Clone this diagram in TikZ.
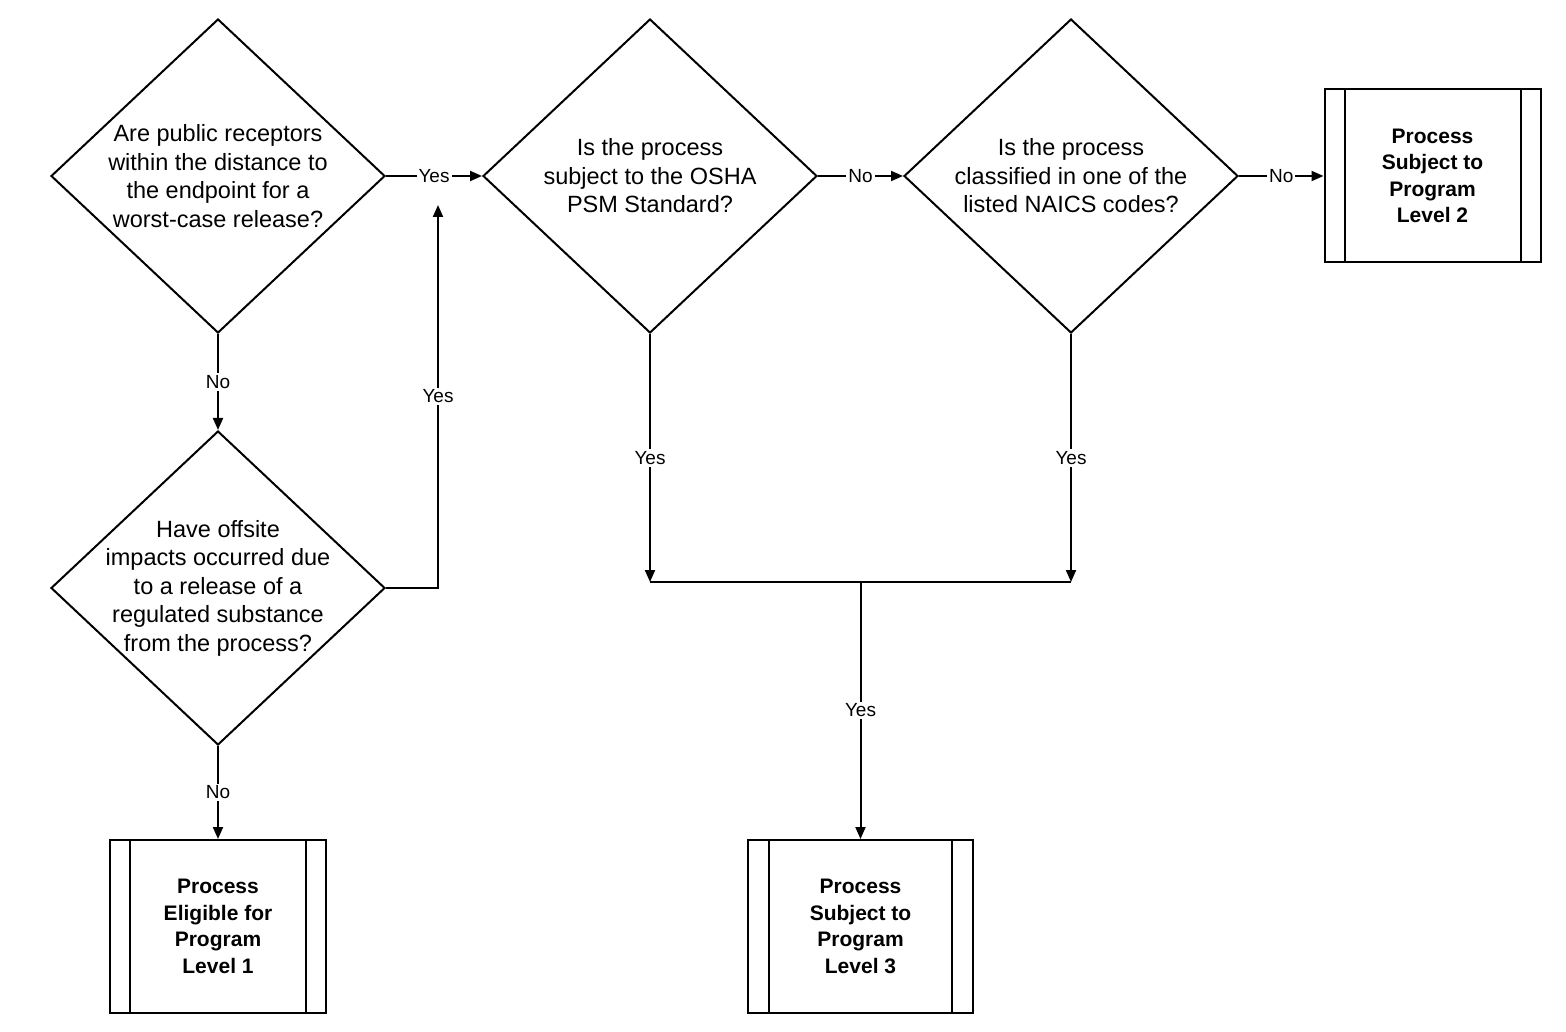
\documentclass[tikz,border=0pt]{standalone}
\usepackage{fontspec}
\setmainfont{Liberation Sans}
\usetikzlibrary{shapes.geometric,arrows.meta}
\begin{document}
\begin{tikzpicture}[x=1pt, y=-1pt, line width=2pt,
  >={Triangle[length=12pt,width=10pt]},
  dec/.style={draw, diamond, minimum width=334pt, minimum height=314pt, inner sep=0pt},
  qtext/.style={align=center, font=\fontsize{23.5}{28.5}\selectfont},
  endbox/.style={draw, minimum width=216pt, minimum height=173pt, align=center,
    font=\bfseries\fontsize{21}{26.5}\selectfont},
  lab/.style={fill=white, inner sep=2pt, font=\fontsize{19}{22}\selectfont}]
\useasboundingbox (0,0) rectangle (1566,1032);
% decisions
\node[dec] (q1) at (218,176) {};
\node[dec] (q2) at (650,176) {};
\node[dec] (q3) at (1071,176) {};
\node[dec] (q4) at (218,588) {};
\node[qtext] at (q1) {Are public receptors\\within the distance to\\the endpoint for a\\worst-case release?};
\node[qtext] at (q2) {Is the process\\subject to the OSHA\\PSM Standard?};
\node[qtext] at (q3) {Is the process\\classified in one of the\\listed NAICS codes?};
\node[qtext] at (q4) {Have offsite\\impacts occurred due\\to a release of a\\regulated substance\\from the process?};
% program levels
\node[endbox] (l1) at (218,926.5) {Process\\Eligible for\\Program\\Level 1};
\node[endbox] (l2) at (1432.5,176) {Process\\Subject to\\Program\\Level 2};
\node[endbox, minimum width=225pt] (l3) at (860.5,926.5) {Process\\Subject to\\Program\\Level 3};
\foreach \b/\d in {l1/21, l2/21, l3/22} {
  \draw ([xshift=\d pt]\b.north west) -- ([xshift=\d pt]\b.south west);
  \draw ([xshift=-\d pt]\b.north east) -- ([xshift=-\d pt]\b.south east);
}
\coordinate (up) at (438,205);
\coordinate (jl) at (650,582);
\coordinate (jr) at (1071,582);
\coordinate (j) at (860.5,582);
% connectors
\draw[->] (q1) -- node[lab] {Yes} (q2);
\draw[->] (q2) -- node[lab] {No} (q3);
\draw[->] (q3) -- node[lab] {No} (l2);
\draw[->] (q1) -- node[lab] {No} (q4);
\draw[->] (q4) -- node[lab] {No} (l1);
\draw[->] (q4.east) -| node[lab, pos=0.75] {Yes} (up);
\draw[->] (q2.south) -- node[lab] {Yes} (jl);
\draw[->] (q3.south) -- node[lab] {Yes} (jr);
\draw (jl) -- (jr);
\draw[->] (j) -- node[lab] {Yes} (l3);
\end{tikzpicture}
\end{document}
